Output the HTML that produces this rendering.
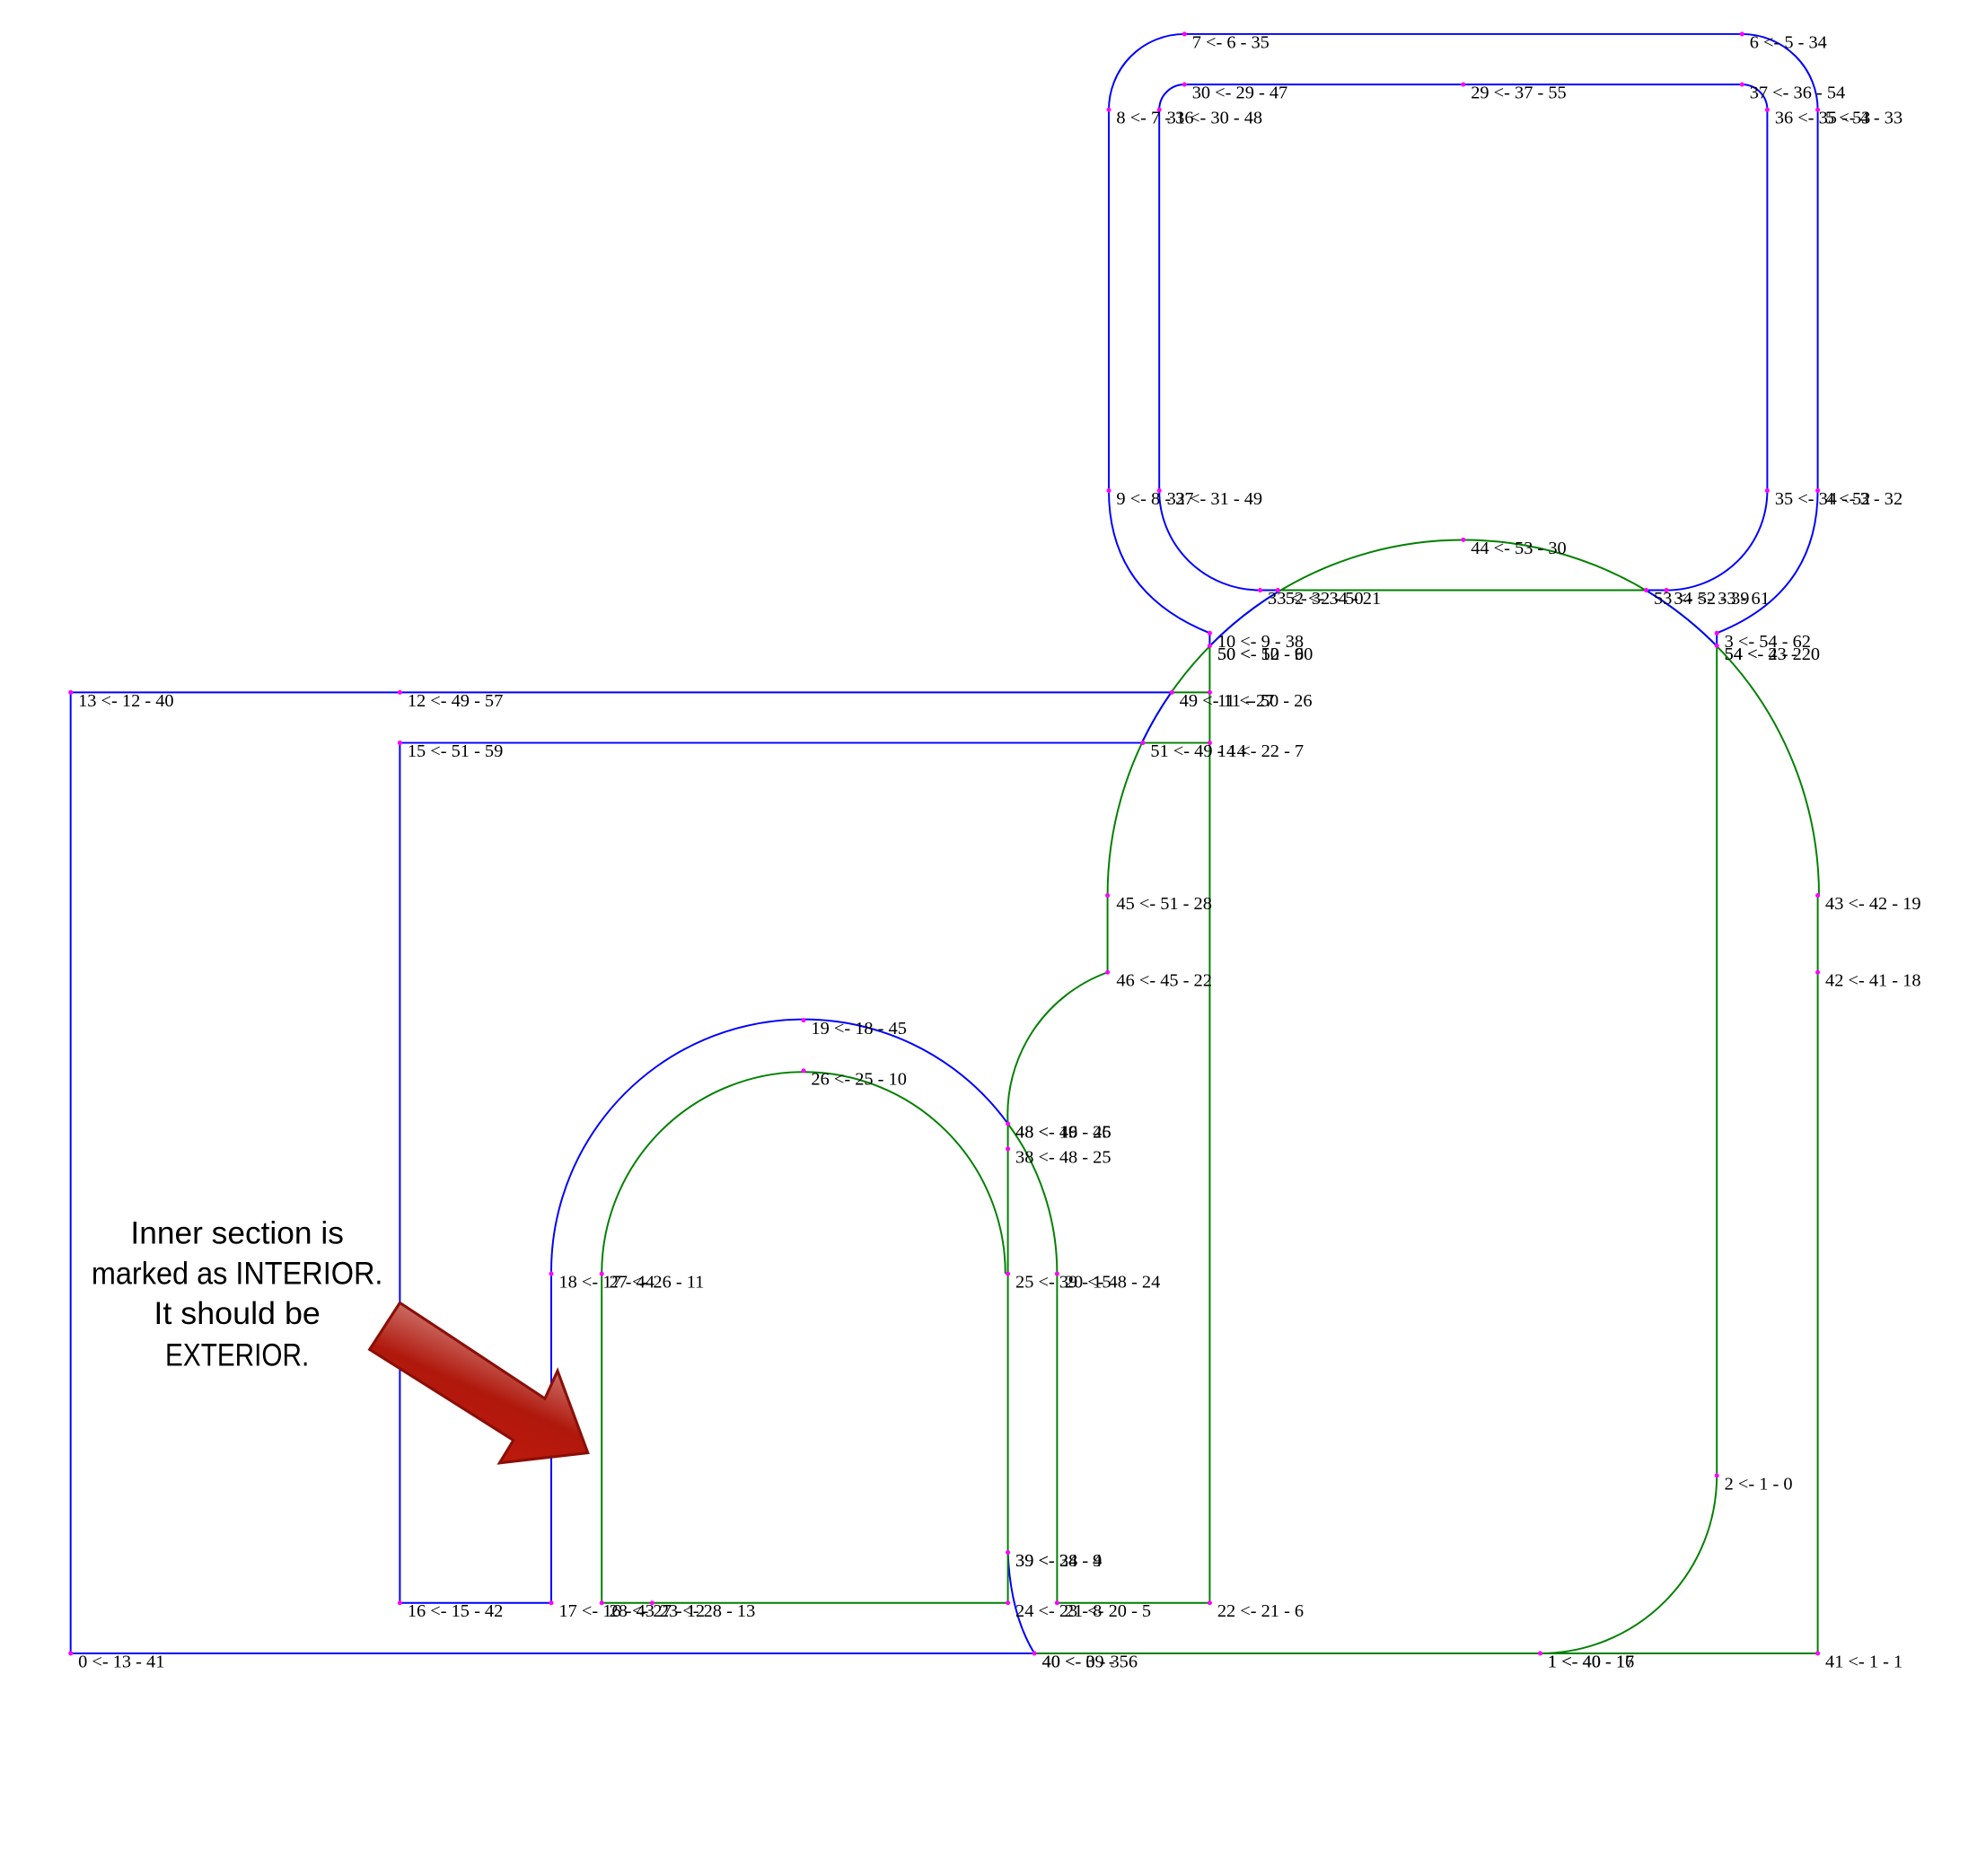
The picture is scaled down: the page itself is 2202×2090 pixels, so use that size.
<!DOCTYPE html>
<html><head><meta charset="utf-8"><style>html,body{margin:0;padding:0;background:#fff}svg{display:block}</style></head>
<body>
<svg xmlns="http://www.w3.org/2000/svg" width="2202" height="2090" viewBox="0 0 1567.26 1487.54">
<defs>
<linearGradient id="rg" x1="0" y1="1" x2="0.6" y2="0">
<stop offset="0" stop-color="#cc1a0e"/><stop offset="0.55" stop-color="#b0180c"/><stop offset="1" stop-color="#e0b0ac"/>
</linearGradient>
</defs>
<g fill="none" stroke-width="1.4">
<path d="M878,710 A282,282 0 0 1 1442,710" stroke="#008000"/>
<path d="M905.9,587.5 A282,282 0 0 1 928.7,548.8" stroke="#0000ff"/>
<path d="M959.1,512.1 A282,282 0 0 1 1013.6,468.9" stroke="#0000ff"/>
<path d="M1304.9,468.1 A282,282 0 0 1 1360.9,512.1" stroke="#0000ff"/>
<path d="M939,27 L1381,27 A60,60 0 0 1 1441,87 L1441,389 Q1441,470 1361,502 L1361,512" stroke="#0000ff"/>
<path d="M939,27 A60,60 0 0 0 879,87 L879,389 Q879,470 959,502 L959,512" stroke="#0000ff"/>
<path d="M939,67 L1381,67 A20,20 0 0 1 1401,87 L1401,389 A80,79 0 0 1 1321,468 L1305,468" stroke="#0000ff"/>
<path d="M939,67 A20,20 0 0 0 919,87 L919,389 A80,79 0 0 0 999,468 L1013,468" stroke="#0000ff"/>
<path d="M1013,468 L1305,468" stroke="#008000"/>
<path d="M929,549 L56,549 L56,1311 L820,1311" stroke="#0000ff"/>
<path d="M906,589 L317,589 L317,1271 L437,1271 L437,1010 A200,200 0 0 1 799,891" stroke="#0000ff"/>
<path d="M799,1231 Q801,1280 820,1311" stroke="#0000ff"/>
<path d="M959,512 L959,549 L929,549" stroke="#008000"/>
<path d="M906,589 L959,589" stroke="#008000"/>
<path d="M959,549 L959,1271 L838,1271 L838,1010" stroke="#008000"/>
<path d="M799,891 A200,200 0 0 1 838,1010" stroke="#008000"/>
<path d="M878,710 L878,771 A120,120 0 0 0 799,891 L799,1271 L477,1271 L477,1010 A160,160 0 0 1 797,1010" stroke="#008000"/>
<path d="M1361,512 L1361,1170 A140,141 0 0 1 1221,1311 L820,1311 M1221,1311 L1441,1311 L1441,710" stroke="#008000"/>
</g>
<g fill="#ff00ff">
<circle cx="939" cy="27" r="1.8"/><circle cx="1381" cy="27" r="1.8"/><circle cx="939" cy="67" r="1.8"/><circle cx="1160" cy="67" r="1.8"/><circle cx="1381" cy="67" r="1.8"/>
<circle cx="879" cy="87" r="1.8"/><circle cx="919" cy="87" r="1.8"/><circle cx="1401" cy="87" r="1.8"/><circle cx="1441" cy="87" r="1.8"/>
<circle cx="879" cy="389" r="1.8"/><circle cx="919" cy="389" r="1.8"/><circle cx="1401" cy="389" r="1.8"/><circle cx="1441" cy="389" r="1.8"/>
<circle cx="1160" cy="428" r="1.8"/><circle cx="999" cy="468" r="1.8"/><circle cx="1013" cy="468" r="1.8"/><circle cx="1305" cy="468" r="1.8"/><circle cx="1321" cy="468" r="1.8"/>
<circle cx="959" cy="502" r="1.8"/><circle cx="959" cy="512" r="1.8"/><circle cx="1361" cy="502" r="1.8"/><circle cx="1361" cy="512" r="1.8"/>
<circle cx="56" cy="549" r="1.8"/><circle cx="317" cy="549" r="1.8"/><circle cx="929" cy="549" r="1.8"/><circle cx="959" cy="549" r="1.8"/>
<circle cx="317" cy="589" r="1.8"/><circle cx="906" cy="589" r="1.8"/><circle cx="959" cy="589" r="1.8"/>
<circle cx="878" cy="710" r="1.8"/><circle cx="1441" cy="710" r="1.8"/><circle cx="878" cy="771" r="1.8"/><circle cx="1441" cy="771" r="1.8"/>
<circle cx="637" cy="809" r="1.8"/><circle cx="637" cy="849" r="1.8"/><circle cx="799" cy="891" r="1.8"/><circle cx="799" cy="911" r="1.8"/>
<circle cx="437" cy="1010" r="1.8"/><circle cx="477" cy="1010" r="1.8"/><circle cx="799" cy="1010" r="1.8"/><circle cx="838" cy="1010" r="1.8"/>
<circle cx="1361" cy="1170" r="1.8"/><circle cx="799" cy="1231" r="1.8"/>
<circle cx="317" cy="1271" r="1.8"/><circle cx="437" cy="1271" r="1.8"/><circle cx="477" cy="1271" r="1.8"/><circle cx="517" cy="1271" r="1.8"/><circle cx="799" cy="1271" r="1.8"/><circle cx="838" cy="1271" r="1.8"/><circle cx="959" cy="1271" r="1.8"/>
<circle cx="56" cy="1311" r="1.8"/><circle cx="820" cy="1311" r="1.8"/><circle cx="1221" cy="1311" r="1.8"/><circle cx="1441" cy="1311" r="1.8"/>
</g>
<g font-family="'Liberation Serif', serif" font-size="14.5" fill="#000">
<text x="945" y="38">7 &lt;- 6 - 35</text>
<text x="1387" y="38">6 &lt;- 5 - 34</text>
<text x="945" y="78">30 &lt;- 29 - 47</text>
<text x="1166" y="78">29 &lt;- 37 - 55</text>
<text x="1387" y="78">37 &lt;- 36 - 54</text>
<text x="885" y="98">8 &lt;- 7 - 36</text>
<text x="925" y="98">31 &lt;- 30 - 48</text>
<text x="1407" y="98">36 &lt;- 35 - 53</text>
<text x="1447" y="98">5 &lt;- 4 - 33</text>
<text x="885" y="400">9 &lt;- 8 - 37</text>
<text x="925" y="400">32 &lt;- 31 - 49</text>
<text x="1407" y="400">35 &lt;- 34 - 52</text>
<text x="1447" y="400">4 &lt;- 3 - 32</text>
<text x="1166" y="439">44 &lt;- 53 - 30</text>
<text x="1005" y="479">33 &lt;- 32 - 50</text>
<text x="1019" y="479">52 &lt;- 34 - 21</text>
<text x="1311" y="479">53 &lt;- 52 - 39</text>
<text x="1327" y="479">34 &lt;- 33 - 61</text>
<text x="965" y="513">10 &lt;- 9 - 38</text>
<text x="965" y="523">50 &lt;- 10 - 60</text>
<text x="965" y="523">50 &lt;- 52 - 9</text>
<text x="1367" y="513">3 &lt;- 54 - 62</text>
<text x="1367" y="523">54 &lt;- 43 - 20</text>
<text x="1367" y="523">54 &lt;- 2 - 2</text>
<text x="62" y="560">13 &lt;- 12 - 40</text>
<text x="323" y="560">12 &lt;- 49 - 57</text>
<text x="935" y="560">49 &lt;- 11 - 27</text>
<text x="965" y="560">11 &lt;- 50 - 26</text>
<text x="323" y="600">15 &lt;- 51 - 59</text>
<text x="912" y="600">51 &lt;- 49 - 14</text>
<text x="965" y="600">14 &lt;- 22 - 7</text>
<text x="885" y="721">45 &lt;- 51 - 28</text>
<text x="1447" y="721">43 &lt;- 42 - 19</text>
<text x="885" y="782">46 &lt;- 45 - 22</text>
<text x="1447" y="782">42 &lt;- 41 - 18</text>
<text x="643" y="820">19 &lt;- 18 - 45</text>
<text x="643" y="860">26 &lt;- 25 - 10</text>
<text x="805" y="902">48 &lt;- 19 - 46</text>
<text x="805" y="902">48 &lt;- 46 - 25</text>
<text x="805" y="922">38 &lt;- 48 - 25</text>
<text x="443" y="1021">18 &lt;- 17 - 44</text>
<text x="483" y="1021">27 &lt;- 26 - 11</text>
<text x="805" y="1021">25 &lt;- 39 - 15</text>
<text x="844" y="1021">20 &lt;- 48 - 24</text>
<text x="1367" y="1181">2 &lt;- 1 - 0</text>
<text x="805" y="1242">39 &lt;- 38 - 9</text>
<text x="805" y="1242">39 &lt;- 24 - 4</text>
<text x="323" y="1282">16 &lt;- 15 - 42</text>
<text x="443" y="1282">17 &lt;- 16 - 43</text>
<text x="483" y="1282">28 &lt;- 27 - 12</text>
<text x="523" y="1282">23 &lt;- 28 - 13</text>
<text x="805" y="1282">24 &lt;- 23 - 8</text>
<text x="844" y="1282">21 &lt;- 20 - 5</text>
<text x="965" y="1282">22 &lt;- 21 - 6</text>
<text x="62" y="1322">0 &lt;- 13 - 41</text>
<text x="826" y="1322">40 &lt;- 0 - 3</text>
<text x="826" y="1322">40 &lt;- 39 - 56</text>
<text x="1227" y="1322">1 &lt;- 40 - 16</text>
<text x="1227" y="1322">1 &lt;- 40 - 17</text>
<text x="1447" y="1322">41 &lt;- 1 - 1</text>
</g>
<g font-family="'Liberation Sans', sans-serif" font-size="25" fill="#000" text-anchor="middle">
<text x="188" y="986" textLength="169" lengthAdjust="spacingAndGlyphs">Inner section is</text>
<text x="188" y="1018" textLength="231" lengthAdjust="spacingAndGlyphs">marked as INTERIOR.</text>
<text x="188" y="1050" textLength="132" lengthAdjust="spacingAndGlyphs">It should be</text>
<text x="188" y="1083" textLength="114" lengthAdjust="spacingAndGlyphs">EXTERIOR.</text>
</g>
<polygon points="317,1033 432,1109 442,1087 466,1152 396,1160 407,1142 293,1070" fill="url(#rg)" stroke="#8a0f08" stroke-width="2.2" stroke-linejoin="miter"/>
</svg>
</body></html>
